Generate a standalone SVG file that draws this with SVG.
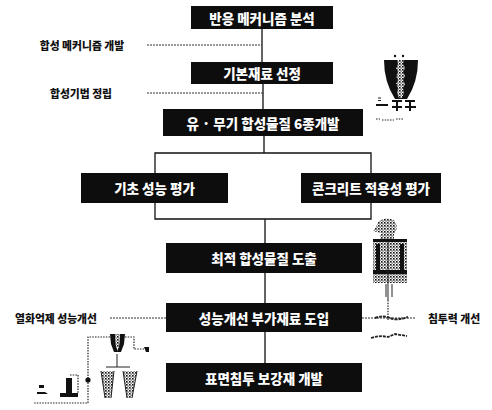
<svg xmlns="http://www.w3.org/2000/svg" width="492" height="410" viewBox="0 0 492 410">
  <style>
    .box { fill: #0d0d0d; }
    .bt { fill: #ffffff; font-family: "Noto Sans CJK KR", "Noto Sans", sans-serif; font-weight: 900; font-size: 13.5px; text-anchor: middle; dominant-baseline: central; }
    .lbl { fill: #111111; font-family: "Noto Sans CJK KR", "Noto Sans", sans-serif; font-weight: 900; font-size: 10.8px; text-anchor: middle; dominant-baseline: central; }
    .conn { stroke: #111111; stroke-width: 1.3; fill: none; }
    .dot { stroke: #333333; stroke-width: 1.2; stroke-dasharray: 2 1; fill: none; }
    .ink { fill: #111111; }
    .sk { stroke: #222222; stroke-width: 1; fill: none; }
    .skd { stroke: #222222; stroke-width: 1.2; stroke-dasharray: 1.5 1.2; fill: none; }
  </style>
  <defs>
    <pattern id="dith" width="3" height="3" patternUnits="userSpaceOnUse">
      <rect width="3" height="3" fill="#ffffff"/>
      <rect x="0" y="0" width="1.6" height="1.6" fill="#111111"/>
      <rect x="1.5" y="1.5" width="1.2" height="1.2" fill="#333333"/>
    </pattern>
  </defs>

  <rect width="492" height="410" fill="#ffffff"/>

  <!-- connectors -->
  <g id="connectors">
    <path class="conn" d="M262 29 V62 M263 84 V109 M264 136 V153"/>
    <path class="conn" d="M155 173 V153 H371 V173"/>
    <path class="conn" d="M155 203 V219 H371 V203"/>
    <path class="conn" d="M265 219 V243 M265 273 V303 M265 332 V363"/>
    <path class="dot" d="M147 45 H262 M147 93 H263"/>
    <path class="dot" d="M110 318 H166 M362 318 H416"/>
  </g>

  <!-- process nodes -->
  <g id="n-mechanism">
    <rect class="box" x="191" y="6" width="142" height="23"/>
    <text class="bt" x="262" y="17.5">반응 메커니즘 분석</text>
  </g>
  <g id="n-base-material">
    <rect class="box" x="191" y="62" width="142" height="22"/>
    <text class="bt" x="262" y="73">기본재료 선정</text>
  </g>
  <g id="n-synthesis">
    <rect class="box" x="163" y="109" width="200" height="27"/>
    <text class="bt" x="263" y="122.5">유 · 무기 합성물질 6종개발</text>
  </g>
  <g id="n-basic-eval">
    <rect class="box" x="81" y="173" width="147" height="30"/>
    <text class="bt" x="154.5" y="188">기초 성능 평가</text>
  </g>
  <g id="n-concrete-eval">
    <rect class="box" x="301" y="173" width="140" height="30"/>
    <text class="bt" x="371" y="188">콘크리트 적용성 평가</text>
  </g>
  <g id="n-optimum">
    <rect class="box" x="166" y="243" width="196" height="30"/>
    <text class="bt" x="264" y="258">최적 합성물질 도출</text>
  </g>
  <g id="n-additive">
    <rect class="box" x="166" y="303" width="196" height="29"/>
    <text class="bt" x="264" y="317.5">성능개선 부가재료 도입</text>
  </g>
  <g id="n-reinforcement">
    <rect class="box" x="166" y="363" width="196" height="29"/>
    <text class="bt" x="264" y="377.5">표면침투 보강재 개발</text>
  </g>

  <!-- side labels -->
  <g id="l-mech-dev"><text class="lbl" x="82" y="45">합성 메커니즘 개발</text></g>
  <g id="l-method"><text class="lbl" x="81" y="93">합성기법 정립</text></g>
  <g id="l-deterioration"><text class="lbl" x="56" y="318">열화억제 성능개선</text></g>
  <g id="l-penetration"><text class="lbl" x="454" y="318">침투력 개선</text></g>

  <!-- reactor vessel sketch: dark cup split by a jagged light slit -->
  <g id="art-vessel">
    <path class="ink" d="M384 60 L418 60 Q418 82 407 99 L395 99 Q384 82 384 60 Z"/>
    <path fill="url(#dith)" d="M397 60 L404 60 L403 64 L405 68 L403 72 L405 76 L403 80 L405 84 L403 88 L404 93 L402 98 L399 98 L397 93 L398 88 L396 84 L398 80 L396 76 L398 72 L396 68 L398 64 Z"/>
    <circle class="ink" cx="395" cy="56" r="1.2"/>
    <circle class="ink" cx="403" cy="56" r="1.2"/>
    <path class="ink" d="M376 104 h12 v2 h-12 Z"/>
    <path class="sk" d="M378 98 h3 M378 100.5 h3"/>
    <path class="ink" d="M392 100 h10 v2 h-4 v4 h4 v2 h-4 v3 h-2 v-3 h-4 v-2 h4 v-4 h-4 Z"/>
    <path class="ink" d="M405 100 h10 v2 h-4 v4 h5 v2 h-5 v3 h-2 v-3 h-4 v-2 h4 v-4 h-4 Z"/>
    <path class="skd" d="M376 119 h4 M382 120 h12 M396 119 h8" stroke-width="0.8"/>
  </g>

  <!-- mixer machine sketch -->
  <g id="art-mixer">
    <path fill="url(#dith)" d="M378 222 Q385 216 394 220 Q399 226 395 233 Q388 236 381 233 L373 231 L376 227 Z"/>
    <path fill="url(#dith)" d="M380 234 h14 v5 h-14 Z"/>
    <rect x="373" y="239" width="34" height="44" fill="url(#dith)"/>
    <path class="ink" d="M373 239 h34 v3 h-34 Z M373 270 h34 v4 h-34 Z M376 244 h4 v26 h-4 Z M400 244 h4 v26 h-4 Z"/>
    <path class="sk" d="M388 242 V300 M386 284 V297 M392 284 V297"/>
    <path class="skd" d="M388 300 V320"/>
    <path d="M375 318 Q383 315 390 318 T408 317" stroke="#222" stroke-width="2" fill="none" stroke-dasharray="3 1"/>
    <path d="M371 338 Q380 335 388 337 L395 334 L407 336" stroke="#222" stroke-width="1.8" fill="none" stroke-dasharray="3 1"/>
  </g>

  <!-- filtration apparatus sketch -->
  <g id="art-apparatus">
    <path class="ink" d="M110 334 h5 l1 12 l2 6 l-4 0 l-3 -8 Z"/>
    <path class="ink" d="M125 334 h-5 l-1 12 l-2 6 l4 0 l3 -8 Z"/>
    <path fill="url(#dith)" d="M115 334 h5 l-1 14 h-3 Z"/>
    <path class="skd" d="M110 337 H88 V403 H33"/>
    <path class="skd" d="M125 337 H134 V349 H144"/>
    <path class="ink" d="M144 347 h5 v5 h-3 Z"/>
    <circle class="ink" cx="88" cy="380" r="2.6"/>
    <path class="sk" d="M117 354 V367 M106 367 H130"/>
    <path fill="url(#dith)" d="M101 371 L114 371 L111 398 L105 398 Z"/>
    <path fill="url(#dith)" d="M123 371 L137 371 L132 398 L127 398 Z"/>
    <path class="sk" d="M101 371 L105 398 M114 371 L111 398 M123 371 L127 398 M137 371 L132 398"/>
    <path class="ink" d="M60 393 h18 v4 h-18 Z M66 378 h6 v15 h-6 Z"/>
    <path class="skd" d="M70 375 h8 v18"/>
    <path class="ink" d="M37 392 h8 l3 2 h-11 Z M39 385 h5 v3 h-5 Z"/>
  </g>
</svg>
